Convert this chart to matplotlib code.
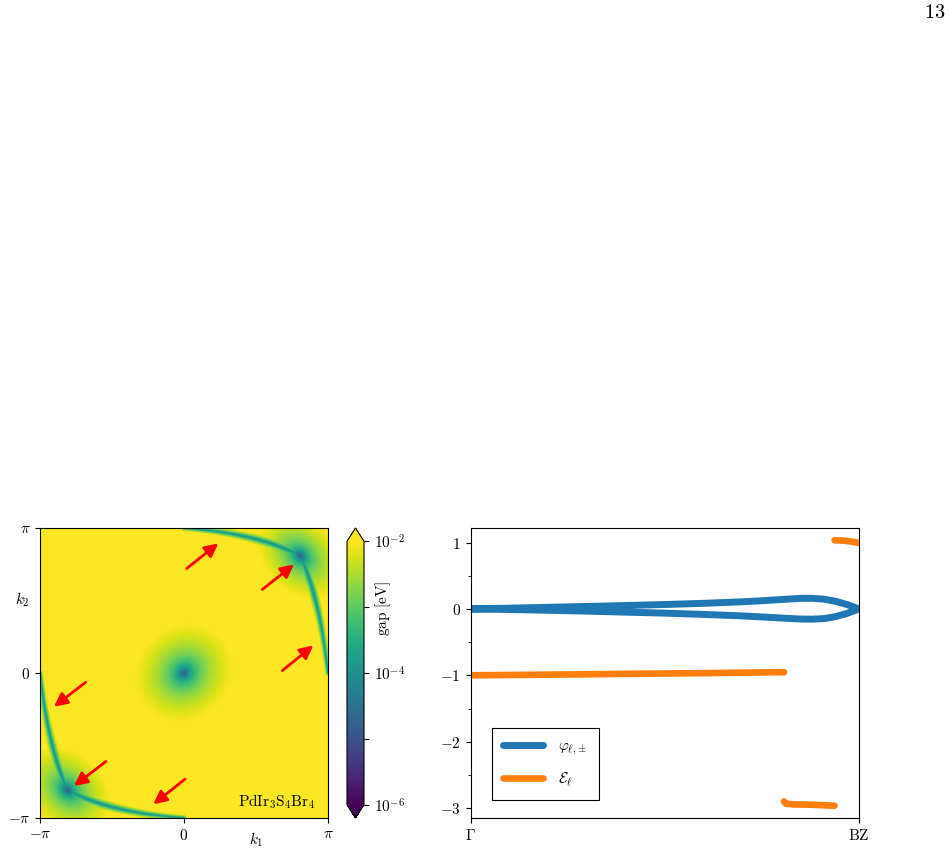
import numpy as np
import matplotlib
matplotlib.use("Agg")
import matplotlib.pyplot as plt
from matplotlib.colors import LogNorm

plt.rcParams.update({
    "mathtext.fontset": "cm",
    "font.family": "serif",
    "font.serif": ["cmr10", "DejaVu Serif"],
    "font.size": 11,
    "axes.linewidth": 0.8,
})

# ---------------- data ----------------
# left panel: features of the gap map, coordinates in units of pi
center_point = (0.0, 0.0)
node_points = [(0.81, 0.81), (-0.81, -0.81)]
# nodal lines as quadratic Bezier curves (start, control, end), units of pi
nodal_lines = [
    [(0.81, 0.81), (0.50, 0.97), (0.00, 1.00)],
    [(0.81, 0.81), (0.95, 0.50), (1.00, 0.00)],
    [(-0.81, -0.81), (-0.50, -0.97), (0.00, -1.00)],
    [(-0.81, -0.81), (-0.95, -0.50), (-1.00, 0.00)],
]
# arrows: tail -> head, units of pi
arrow_tails = [(0.019, 0.721), (0.544, 0.576), (0.683, 0.017),
               (-0.683, -0.064), (-0.542, -0.610), (0.007, -0.732)]
arrow_heads = [(0.238, 0.894), (0.764, 0.749), (0.898, 0.190),
               (-0.903, -0.232), (-0.764, -0.779), (-0.213, -0.905)]
material = r"$\mathrm{PdIr_3S_4Br_4}$"

# right panel
x_phi = [0.0, 0.1, 0.2, 0.3, 0.4, 0.5, 0.6, 0.7, 0.75, 0.8, 0.85, 0.88,
         0.91, 0.94, 0.97, 1.0]
phi_up = [0.0, 0.012, 0.025, 0.038, 0.052, 0.067, 0.085, 0.108, 0.124,
          0.142, 0.160, 0.160, 0.148, 0.115, 0.065, 0.0]
phi_dn = [0.0, -0.008, -0.020, -0.033, -0.048, -0.063, -0.082, -0.105,
          -0.120, -0.137, -0.152, -0.154, -0.145, -0.115, -0.065, 0.0]

x_e1 = [0.0, 0.2, 0.4, 0.6, 0.807]
e1 = [-1.0, -0.99, -0.978, -0.967, -0.953]
x_e2 = [0.807, 0.812, 0.83, 0.88, 0.937]
e2 = [-2.90, -2.935, -2.945, -2.95, -2.965]
x_e3 = [0.937, 0.96, 0.98, 1.0]
e3 = [1.035, 1.03, 1.015, 0.995]

# ---------------- gap field ----------------
N = 500
k = np.linspace(-np.pi, np.pi, N)
K1, K2 = np.meshgrid(k, k)

u = (K1 - center_point[0] * np.pi + K2 - center_point[1] * np.pi) / np.sqrt(2)
v = (K1 - K2) / np.sqrt(2)
logg = np.log10(1.5e-5 + 0.0085 * ((u / 1.05) ** 2 + (v / 0.95) ** 2))

for (nx, ny) in node_points:
    du = ((K1 - nx * np.pi) + (K2 - ny * np.pi)) / np.sqrt(2)
    dv = ((K1 - nx * np.pi) - (K2 - ny * np.pi)) / np.sqrt(2)
    d2 = (du / 0.85) ** 2 + (dv / 1.15) ** 2
    logg = np.minimum(logg, np.log10(1.5e-5 + 0.011 * d2))

t = np.linspace(0, 1, 240)
for P0, P1, P2 in nodal_lines:
    P0, P1, P2 = np.array(P0) * np.pi, np.array(P1) * np.pi, np.array(P2) * np.pi
    for ti in t:
        p = (1 - ti) ** 2 * P0 + 2 * (1 - ti) * ti * P1 + ti ** 2 * P2
        d = np.sqrt((K1 - p[0]) ** 2 + (K2 - p[1]) ** 2)
        w = 0.065 + 0.09 * (1 - ti)
        logg = np.minimum(logg, -4.2 + 2.2 * (d / w) ** 0.7)

gap = 10 ** logg

# ---------------- figure ----------------
W, H = 952, 852
fig = plt.figure(figsize=(W / 100, H / 100), dpi=100)

def rect(x0, y0, x1, y1):
    return [x0 / W, 1 - y1 / H, (x1 - x0) / W, (y1 - y0) / H]

ax1 = fig.add_axes(rect(40, 528, 328, 818))
cax = fig.add_axes(rect(347, 528, 364, 818))
ax2 = fig.add_axes(rect(470.5, 528, 859, 818))

norm = LogNorm(vmin=1e-6, vmax=1e-2)
im = ax1.imshow(gap, origin="lower", extent=[-np.pi, np.pi, -np.pi, np.pi],
                cmap="viridis", norm=norm, aspect="auto", interpolation="bilinear")
ax1.set_xlim(-np.pi, np.pi)
ax1.set_ylim(-np.pi, np.pi)
ax1.set_xticks([-np.pi, 0, np.pi])
ax1.set_xticklabels([r"$-\pi$", r"$0$", r"$\pi$"])
ax1.set_yticks([-np.pi, 0, np.pi])
ax1.set_yticklabels([r"$-\pi$", r"$0$", r"$\pi$"])
ax1.text(0.75, -0.076, r"$k_1$", transform=ax1.transAxes, ha="center", va="center")
ax1.text(-0.0625, 0.752, r"$k_2$", transform=ax1.transAxes, ha="center", va="center")

for (tx, ty), (hx, hy) in zip(arrow_tails, arrow_heads):
    ax1.annotate("", xy=(hx * np.pi, hy * np.pi), xytext=(tx * np.pi, ty * np.pi),
                 arrowprops=dict(arrowstyle="-|>", color="red", lw=2,
                                 mutation_scale=20, shrinkA=0, shrinkB=0))
ax1.text(0.91 * np.pi, -0.885 * np.pi, material, ha="right", va="center")

cb = fig.colorbar(im, cax=cax, extend="both")
cb.set_ticks([1e-6, 1e-4, 1e-2])
cb.set_ticklabels([r"$10^{-6}$", r"$10^{-4}$", r"$10^{-2}$"])
cax.yaxis.set_ticks([1e-5, 1e-3], minor=True)
cax.yaxis.set_minor_formatter(matplotlib.ticker.NullFormatter())
cax.tick_params(which="minor", length=3.5, width=0.8)
cax.text(2.1, 0.745, r"$\mathrm{gap\ [eV]}$", transform=cax.transAxes,
         rotation=90, ha="center", va="center")

# right panel
xs = list(x_phi) + list(x_phi[::-1])
ys = list(phi_up) + list(phi_dn[::-1])
ax2.plot(xs, ys, color="#1f77b4", lw=5, solid_capstyle="round",
         solid_joinstyle="round", label=r"$\varphi_{\ell{,}\pm}$")
ax2.plot(x_e1, e1, color="#ff7f0e", lw=4.8, solid_capstyle="round",
         label=r"$\mathcal{E}_\ell$")
ax2.plot(x_e2, e2, color="#ff7f0e", lw=4.8, solid_capstyle="round")
ax2.plot(x_e3, e3, color="#ff7f0e", lw=4.8, solid_capstyle="round")
ax2.set_xlim(0, 1)
ax2.set_ylim(-3.15, 1.22)
ax2.set_xticks([0, 1])
ax2.set_xticklabels([r"$\Gamma$", r"$\mathrm{BZ}$"])
ax2.set_yticks([-3, -2, -1, 0, 1])
ax2.set_yticklabels([r"$-3$", r"$-2$", r"$-1$", r"$0$", r"$1$"])
ax2.set_yticks(np.arange(-3, 1.01, 0.5), minor=True)
leg = ax2.legend(loc="lower left", bbox_to_anchor=(0.055, 0.062), borderaxespad=0,
                 fancybox=False, edgecolor="black", framealpha=1,
                 handlelength=2.6, labelspacing=0.85, borderpad=0.75,
                 handletextpad=1.0)
leg.get_frame().set_linewidth(0.8)

fig.text(945 / W, 1 - 12.5 / H, r"$13$", ha="right", va="center", fontsize=14.5)

fig.savefig("out.png", dpi=100)
